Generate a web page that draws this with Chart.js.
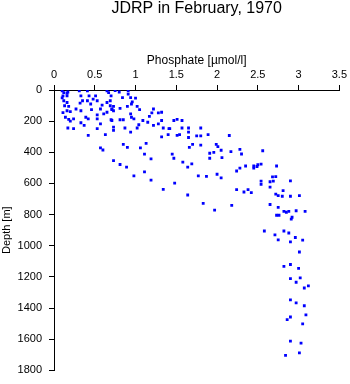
<!DOCTYPE html>
<html>
<head>
<meta charset="utf-8">
<script src="https://cdn.jsdelivr.net/npm/chart.js@4/dist/chart.umd.min.js"></script>
<style>
    body { margin: 0; background: #fff; }
</style>
</head>
<body>
<canvas id="phosChart" width="350" height="384"></canvas>
<script>
// 标题和坐标轴
var chartTitle = "JDRP in February, 1970";
var xTitle = "Phosphate [\u00b5mol/l]";
var yTitle = "Depth [m]";
var xMin = 0, xMax = 3.5, xStep = 0.5;
var yMin = 0, yMax = 1800, yStep = 200;

// 磷酸盐 [µmol/l]
var phosphate = [
    0.10, 0.12, 0.16, 0.11, 0.16, 0.12, 0.16, 0.13, 0.18, 0.16, 0.20, 0.27, 0.14, 0.18, 0.24,
    0.17, 0.24, 0.33, 0.37, 0.39, 0.42, 0.33, 0.32, 0.31, 0.33, 0.35, 0.41, 0.43, 0.41, 0.45,
    0.48, 0.51, 0.53, 0.46, 0.53, 0.53, 0.57, 0.53, 0.61, 0.65, 0.57, 0.59, 0.65, 0.69, 0.71,
    0.65, 0.70, 0.73, 0.73, 0.63, 0.42, 0.57, 0.60, 0.67, 0.70, 0.10, 0.17, 0.11, 0.20,
    0.75, 0.80, 0.91, 0.91, 0.84, 0.94, 1.00, 0.96, 0.95, 0.90, 1.02, 0.73, 0.71, 0.73, 0.81,
    1.05, 0.69, 0.94, 0.95, 0.98, 0.71, 0.81, 0.85, 0.87, 0.94, 1.02, 1.04, 1.09, 1.15, 1.17,
    1.20, 1.22, 1.28, 1.32, 1.32, 1.28, 1.22, 1.34, 1.41, 1.40, 1.32, 1.13, 1.06, 0.90, 0.85, 1.11,
    1.47, 1.51, 1.57, 1.42, 1.57, 1.65, 1.65, 1.51, 1.54, 1.65, 1.75, 1.80, 1.80, 1.89, 2.15,
    1.70, 1.66, 1.80, 1.99, 2.01, 2.05, 2.17, 2.28, 2.30, 1.91, 1.96, 1.45,
    2.56, 1.91, 2.06, 2.24, 2.28, 2.35, 2.45, 2.45, 2.50, 2.54, 2.49, 2.73, 1.87, 2.00, 2.05,
    2.24, 2.33, 2.38, 2.42, 2.54, 2.54, 2.65, 2.68, 2.72, 2.69, 2.65, 2.81, 2.72, 2.75, 2.80,
    2.90, 2.90, 3.01, 1.83, 1.97, 2.18, 2.65, 2.75, 2.73, 2.76, 2.82, 2.85, 2.88, 2.97, 3.08,
    2.91, 2.92, 2.58, 2.71, 2.82, 2.88, 2.75, 2.90, 2.96, 3.05, 3.01,
    0.73, 0.81, 0.89, 0.98, 1.19, 1.11, 1.19, 1.47, 1.58, 1.64, 1.69, 1.77, 1.48, 1.34, 1.64,
    2.90, 2.82, 3.00, 2.90, 3.02, 2.97, 3.07, 3.12, 2.90, 2.97, 3.07, 2.90, 2.86, 3.09, 3.05,
    2.90, 3.03, 3.01, 2.84
];

// 深度 [m]
var depth = [
    6, 17, 21, 38, 38, 69, 80, 101, 105, 133, 139, 122, 175, 189, 185,
    244, 248, 210, 227, 175, 185, 133, 84, 6, 38, 69, 6, 38, 69, 90,
    59, 38, 69, 126, 160, 185, 217, 248, 153, 143, 122, 97, 80, 101, 122,
    6, 191, 238, 259, 286, 291, 372, 385, 17, 38, 51, 13, 145, 200,
    3, 13, 6, 27, 49, 49, 52, 76, 90, 105, 105, 105, 126, 133, 118,
    126, 69, 153, 175, 185, 196, 191, 191, 244, 270, 244, 223, 196, 207, 169,
    147, 122, 147, 143, 196, 217, 227, 244, 248, 286, 301, 343, 371, 368, 349, 412,
    196, 189, 196, 248, 244, 244, 270, 291, 286, 305, 295, 244, 295, 286, 292,
    349, 368, 354, 349, 364, 387, 396, 381, 411, 406, 400, 412,
    390, 438, 434, 520, 501, 488, 488, 501, 480, 476, 491, 488, 554, 541, 564,
    640, 655, 640, 659, 585, 606, 623, 558, 556, 585, 589, 646, 668, 678, 682,
    583, 682, 678, 728, 771, 741, 735, 754, 804, 804, 779, 785, 779, 775, 779,
    829, 817, 905, 930, 905, 918, 962, 975, 947, 964, 1040,
    453, 478, 495, 551, 442, 526, 579, 438, 463, 495, 474, 551, 598, 638, 674,
    1120, 1132, 1145, 1211, 1206, 1234, 1271, 1257, 1347, 1366, 1385, 1457, 1474, 1444, 1501,
    1612, 1625, 1688, 1703
];

var fontFamily = "'Liberation Sans', Arial, sans-serif";

// 刻度文字不加千位分隔符
function plainTick(value) {
    return String(value);
}

function initChart() {
    var points = [];
    for (var i = 0; i < phosphate.length; i++) {
        points.push({ x: phosphate[i], y: depth[i] });
    }

    var data = {
        datasets: [{
            data: points,
            backgroundColor: 'rgb(0, 0, 255)',
            borderWidth: 0,
            pointStyle: 'rect',
            pointRadius: 2,
        }]
    };

    var config = {
        type: 'scatter',
        data: data,
        options: {
            responsive: false,
            animation: false,
            layout: {
                padding: { left: 0, right: 10, top: 0, bottom: 9 }
            },
            plugins: {
                legend: { display: false },
                tooltip: { enabled: false },
                title: {
                    display: true,
                    fullSize: false, // 标题在绘图区上方居中
                    text: chartTitle,
                    color: '#000',
                    font: { family: fontFamily, size: 16, weight: 'normal', lineHeight: '16px' },
                    padding: { top: 1, bottom: 0 }
                }
            },
            scales: {
                x: {
                    type: 'linear',
                    position: 'top',
                    min: xMin,
                    max: xMax,
                    afterFit: function(scale) { scale.height = 73; },
                    grid: { drawOnChartArea: false, drawTicks: true, tickLength: 5, color: '#000' },
                    border: { color: '#000', width: 1 },
                    ticks: {
                        stepSize: xStep,
                        color: '#000',
                        padding: 3,
                        maxRotation: 0,
                        callback: plainTick,
                        font: { family: fontFamily, size: 11 }
                    },
                    title: {
                        display: true,
                        text: xTitle,
                        color: '#000',
                        font: { family: fontFamily, size: 12 },
                        padding: { top: 36, bottom: 0 }
                    }
                },
                y: {
                    type: 'linear',
                    reverse: true,
                    min: yMin,
                    max: yMax,
                    afterFit: function(scale) { scale.width = 54; },
                    grid: { drawOnChartArea: false, drawTicks: true, tickLength: 5, color: '#000' },
                    border: { color: '#000', width: 1 },
                    ticks: {
                        stepSize: yStep,
                        color: '#000',
                        padding: 7,
                        callback: plainTick,
                        font: { family: fontFamily, size: 11 }
                    },
                    title: {
                        display: true,
                        text: yTitle,
                        color: '#000',
                        font: { family: fontFamily, size: 11 },
                        padding: { top: 0, bottom: 0 }
                    }
                }
            }
        }
    };
    new Chart(document.getElementById('phosChart'), config);
}

initChart();
</script>
</body>
</html>
